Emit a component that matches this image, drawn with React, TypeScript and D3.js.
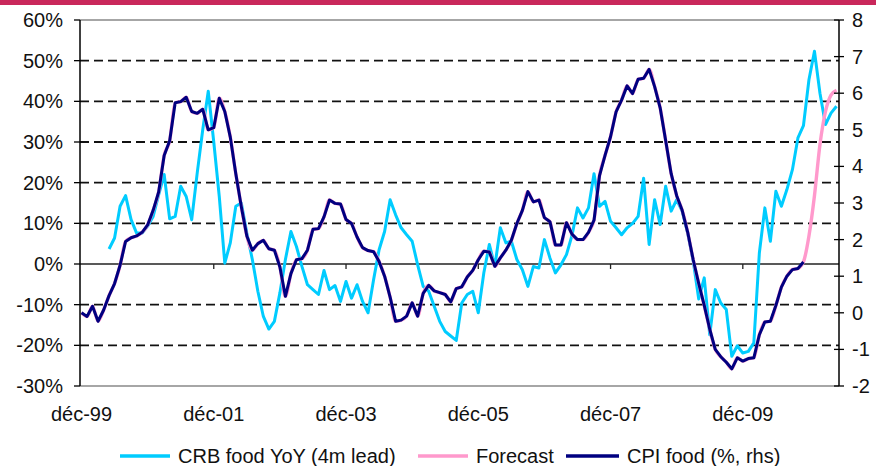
import React, { useRef, useEffect } from 'react';
import * as d3 from 'd3';

// month index 0 = Dec 1999
const tickMonths = [0, 24, 48, 72, 96, 120];
const tickLabels = ['déc-99', 'déc-01', 'déc-03', 'déc-05', 'déc-07', 'déc-09'];
const leftTicks = [-30, -20, -10, 0, 10, 20, 30, 40, 50, 60];
const rightTicks = [-2, -1, 0, 1, 2, 3, 4, 5, 6, 7, 8];

// CRB food YoY (4m lead), %, starts at month 5
const crbStart = 5;
const crbFood = [
  3.7, 6.4, 14.2, 16.8, 10.9, 7.6, 7.6, 9.3, 11.7, 17.0,
  22.0, 11.1, 11.7, 19.1, 16.6, 10.9, 22.4, 33.0, 42.5, 30.0,
  16.6, 0.2, 5.2, 14.2, 15.0, 7.6, 1.1, -6.7, -12.9, -16.0,
  -14.1, -7.1, 1.1, 8.0, 4.3, -0.6, -5.1, -6.3, -7.5, -1.6,
  -6.3, -5.3, -9.2, -4.3, -8.4, -5.1, -9.2, -12.0, -3.9, 3.5,
  8.0, 15.8, 12.1, 8.9, 7.2, 5.6, -0.2, -5.5, -6.7, -10.4,
  -14.1, -16.6, -17.7, -18.8, -9.6, -7.5, -6.7, -12.0, -2.2, 4.8,
  -0.6, 8.9, 5.2, 5.6, 1.1, -1.4, -5.5, -0.6, -1.0, 6.0,
  1.5, -2.2, -0.2, 2.3, 7.0, 13.8, 11.3, 13.8, 22.2, 14.2,
  15.4, 10.5, 8.9, 7.2, 8.9, 10.0, 11.7, 21.1, 4.8, 15.8,
  9.7, 19.1, 13.0, 15.8, 13.0, 7.6, 0.7, -8.6, -3.4, -17.4,
  -6.3, -9.6, -11.2, -22.7, -20.1, -21.9, -21.5, -19.4, 2.7, 13.8,
  5.6, 17.9, 14.2, 18.3, 23.2, 31.0, 34.0, 45.3, 52.3, 42.0,
  34.3, 37.1, 38.8
];

// CPI food (%, rhs), months 0..131
const cpiFood = [
  0.0, -0.1, 0.18, -0.23, 0.07, 0.47, 0.8, 1.3, 1.95, 2.05,
  2.1, 2.2, 2.4, 2.8, 3.3, 4.3, 4.7, 5.74, 5.77, 5.89,
  5.5, 5.45, 5.56, 5.0, 5.06, 5.86, 5.5, 4.8, 3.8, 2.9,
  2.1, 1.71, 1.89, 1.98, 1.75, 1.71, 1.25, 0.45, 1.07, 1.45,
  1.48, 1.71, 2.28, 2.3, 2.62, 3.08, 2.99, 2.97, 2.55, 2.44,
  2.07, 1.78, 1.7, 1.67, 1.4, 1.0, 0.43, -0.23, -0.2, -0.09,
  0.27, -0.09, 0.53, 0.75, 0.6, 0.55, 0.5, 0.3, 0.66, 0.71,
  0.98, 1.16, 1.45, 1.68, 1.66, 1.27, 1.5, 1.71, 1.98, 2.44,
  2.8, 3.31, 3.03, 3.08, 2.6, 2.49, 1.85, 1.85, 2.46, 2.15,
  2.0, 2.0, 2.2, 2.53, 3.75, 4.3, 4.81, 5.49, 5.81, 6.2,
  5.99, 6.38, 6.41, 6.65, 6.18, 5.6, 4.71, 3.8, 3.2, 2.8,
  2.2, 1.45, 0.8, 0.2, -0.45, -1.0, -1.2, -1.35, -1.53, -1.23,
  -1.32, -1.25, -1.23, -0.6, -0.25, -0.23, 0.2, 0.7, 1.0, 1.18,
  1.21, 1.39
];

// Forecast beyond the last CPI print, months 132..137
const forecastExt = [2.1, 3.2, 4.6, 5.5, 5.95, 6.08];

const series = [
  { name: 'CRB food YoY (4m lead)', color: '#00CCFF', lx: 120, tx: 178 },
  { name: 'Forecast', color: '#FF99CC', lx: 418, tx: 476 },
  { name: 'CPI food (%, rhs)', color: '#000080', lx: 566, tx: 627 },
];

const W = 876;
const H = 466;
const FONT = '"Liberation Sans", Arial, sans-serif';

const App = () => {
  const svgRef = useRef<SVGSVGElement>(null);

  useEffect(() => {
    const svg = d3.select(svgRef.current);
    svg.selectAll('*').remove();

    const left = 80, right = 839, top = 20, bottom = 386;

    const x = d3.scaleLinear().domain([0, 137]).range([81.5, 836.5]);
    const yL = d3.scaleLinear().domain([-30, 60]).range([bottom, top]);
    const yR = d3.scaleLinear().domain([-2, 8]).range([bottom, top]);

    svg.append('rect').attr('width', W).attr('height', H).attr('fill', '#fff');

    // top band
    svg.append('rect').attr('x', 0).attr('y', 0).attr('width', W).attr('height', 5).attr('fill', '#C9285B');

    // gridlines
    svg.append('g')
      .selectAll('line')
      .data(leftTicks.filter(d => d !== 0 && d !== -30 && d !== 60))
      .enter().append('line')
      .attr('x1', left).attr('x2', right)
      .attr('y1', d => yL(d)).attr('y2', d => yL(d))
      .attr('stroke', '#111')
      .attr('stroke-width', 1.8)
      .attr('stroke-dasharray', '9,5');

    // plot border top/bottom
    svg.append('line').attr('x1', left).attr('x2', right).attr('y1', top).attr('y2', top)
      .attr('stroke', '#888').attr('stroke-width', 1.5);
    svg.append('line').attr('x1', left).attr('x2', right).attr('y1', bottom).attr('y2', bottom)
      .attr('stroke', '#888').attr('stroke-width', 1.5);

    // zero line with category ticks
    svg.append('line').attr('x1', left).attr('x2', right).attr('y1', yL(0)).attr('y2', yL(0))
      .attr('stroke', '#222').attr('stroke-width', 1.3);
    svg.append('g')
      .selectAll('line')
      .data(tickMonths.slice(1))
      .enter().append('line')
      .attr('x1', d => x(d)).attr('x2', d => x(d))
      .attr('y1', yL(0)).attr('y2', yL(0) + 5)
      .attr('stroke', '#222').attr('stroke-width', 1.3);

    // x labels
    svg.append('g')
      .selectAll('text')
      .data(tickMonths)
      .enter().append('text')
      .attr('x', d => x(d))
      .attr('y', 421)
      .attr('text-anchor', 'middle')
      .attr('font-family', FONT)
      .attr('font-size', 20)
      .attr('fill', '#111')
      .text((d, i) => tickLabels[i]);

    // lines
    const lineL = d3.line<number>()
      .x((d, i) => x(i + crbStart))
      .y(d => yL(d));
    svg.append('path')
      .datum(crbFood)
      .attr('fill', 'none')
      .attr('stroke', series[0].color)
      .attr('stroke-width', 3)
      .attr('stroke-linejoin', 'round')
      .attr('d', lineL);

    const lineR = d3.line<number>()
      .x((d, i) => x(i))
      .y(d => yR(d));
    svg.append('path')
      .datum(cpiFood.concat(forecastExt))
      .attr('fill', 'none')
      .attr('stroke', series[1].color)
      .attr('stroke-width', 3.4)
      .attr('stroke-linejoin', 'round')
      .attr('d', lineR.curve(d3.curveMonotoneX));
    svg.append('path')
      .datum(cpiFood)
      .attr('fill', 'none')
      .attr('stroke', series[2].color)
      .attr('stroke-width', 3)
      .attr('stroke-linejoin', 'round')
      .attr('d', lineR.curve(d3.curveLinear));

    // left axis
    const gl = svg.append('g');
    gl.append('line').attr('x1', left).attr('x2', left).attr('y1', top).attr('y2', bottom)
      .attr('stroke', '#000').attr('stroke-width', 1.5);
    gl.selectAll('.tk').data(leftTicks).enter().append('line')
      .attr('x1', left - 6).attr('x2', left)
      .attr('y1', d => yL(d)).attr('y2', d => yL(d))
      .attr('stroke', '#000').attr('stroke-width', 1.3);
    gl.selectAll('text').data(leftTicks).enter().append('text')
      .attr('x', 63)
      .attr('y', d => yL(d) + 7)
      .attr('text-anchor', 'end')
      .attr('font-family', FONT)
      .attr('font-size', 20)
      .attr('fill', '#111')
      .text(d => `${d}%`);

    // right axis
    const gr = svg.append('g');
    gr.append('line').attr('x1', right).attr('x2', right).attr('y1', top).attr('y2', bottom)
      .attr('stroke', '#000').attr('stroke-width', 1.5);
    gr.selectAll('.tk').data(rightTicks).enter().append('line')
      .attr('x1', right - 5).attr('x2', right + 5)
      .attr('y1', d => yR(d)).attr('y2', d => yR(d))
      .attr('stroke', '#000').attr('stroke-width', 1.3);
    gr.selectAll('text').data(rightTicks).enter().append('text')
      .attr('x', 852)
      .attr('y', d => yR(d) + 7)
      .attr('text-anchor', 'start')
      .attr('font-family', FONT)
      .attr('font-size', 20)
      .attr('fill', '#111')
      .text(d => `${d}`);

    // legend
    const lg = svg.append('g');
    series.forEach(s => {
      lg.append('line')
        .attr('x1', s.lx).attr('x2', s.tx - 8)
        .attr('y1', 456).attr('y2', 456)
        .attr('stroke', s.color).attr('stroke-width', 3.5);
      lg.append('text')
        .attr('x', s.tx).attr('y', 463)
        .attr('font-family', FONT)
        .attr('font-size', 20)
        .attr('fill', '#111')
        .text(s.name);
    });
  }, []);

  return (
    <svg
      ref={svgRef}
      width={W}
      height={H}
      style={{ position: 'absolute', left: 0, top: 0, display: 'block' }}
    ></svg>
  );
};

export default App;
